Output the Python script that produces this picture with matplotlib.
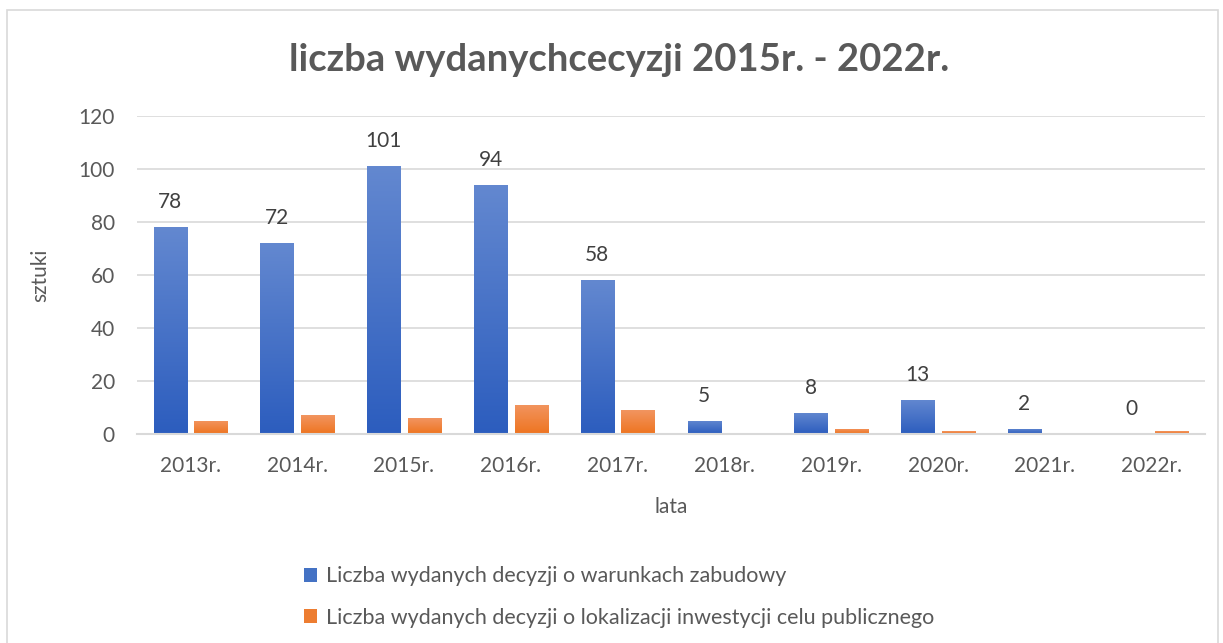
import numpy as np
import matplotlib.pyplot as plt
from matplotlib.colors import LinearSegmentedColormap
from matplotlib.patches import Rectangle

# data
lata = ["2013r.", "2014r.", "2015r.", "2016r.", "2017r.",
        "2018r.", "2019r.", "2020r.", "2021r.", "2022r."]
warunki_zabudowy = [78, 72, 101, 94, 58, 5, 8, 13, 2, 0]
lokalizacja_icp = [5, 7, 6, 11, 9, 0, 2, 1, 0, 1]

labels = ["Liczba wydanych decyzji o warunkach zabudowy",
          "Liczba wydanych decyzji o lokalizacji inwestycji celu publicznego"]

plt.rcParams["font.family"] = ["Lato", "DejaVu Sans"]
text_col = "#595959"

fig = plt.figure(figsize=(12.23, 6.43), dpi=100)
ax = fig.add_axes([137 / 1223, 1 - 434 / 643, (1205 - 137) / 1223, (434 - 116) / 643])

# chart border
fig.patches.append(Rectangle((7 / 1223, -0.05), 1211 / 1223, 1 - 10 / 643 + 0.05,
                             transform=fig.transFigure, fill=False,
                             edgecolor="#D9D9D9", linewidth=1.2))

x = np.arange(len(lata))
w = 0.31
blue_cmap = LinearSegmentedColormap.from_list("b", ["#2C5DBE", "#6388D0"])
orange_cmap = LinearSegmentedColormap.from_list("o", ["#EE7420", "#F29560"])

b1 = ax.bar(x - 0.19, warunki_zabudowy, w, color="#4472C4", label=labels[0], zorder=2)
b2 = ax.bar(x + 0.19, lokalizacja_icp, w, color="#ED7D31", label=labels[1], zorder=2)

# vertical gradient fill, like the office chart
grad = np.linspace(0, 1, 256).reshape(-1, 1)
for bars, cmap in [(b1, blue_cmap), (b2, orange_cmap)]:
    for bar in bars:
        h = bar.get_height()
        if h <= 0:
            continue
        x0 = bar.get_x()
        im = ax.imshow(grad, extent=[x0, x0 + bar.get_width(), 0, h],
                       origin="lower", aspect="auto", cmap=cmap, zorder=2.5)
        im.set_clip_path(bar)

# value labels above the blue bars
for xi, v in zip(x, warunki_zabudowy):
    ax.annotate(str(v), (xi - 0.19, v), xytext=(0, 18), textcoords="offset points",
                ha="center", va="center", fontsize=15, color="#404040")

ax.set_xlim(-0.5, len(lata) - 0.5)
ax.set_ylim(0, 120)
ax.set_yticks(np.arange(0, 121, 20))
ax.set_xticks(x)
ax.set_xticklabels(lata)
ax.tick_params(axis="both", length=0, labelsize=15, colors=text_col)
ax.tick_params(axis="y", pad=16)
ax.tick_params(axis="x", pad=16)
ax.grid(axis="y", color="#D9D9D9", linewidth=1.2, zorder=0)
for s in ["top", "right", "left"]:
    ax.spines[s].set_visible(False)
ax.spines["bottom"].set_color("#D9D9D9")
ax.spines["bottom"].set_linewidth(1.5)
ax.set_axisbelow(True)

ax.set_ylabel("sztuki", fontsize=15, color=text_col, labelpad=20)
ax.set_xlabel("lata", fontsize=15, color=text_col, labelpad=15)

fig.text(0.506, 1 - 60 / 643, "liczba wydanychcecyzji 2015r. - 2022r.",
         ha="center", va="center", fontsize=27.5, fontweight="bold", color=text_col)

leg = fig.legend(handles=[b1, b2], labels=labels, loc="upper left",
                 bbox_to_anchor=(285 / 1223, 1 - 547 / 643), frameon=False,
                 fontsize=15.5, labelcolor=text_col, handlelength=0.6,
                 handleheight=0.6, handletextpad=0.4, labelspacing=1.0)

fig.savefig("out.png", dpi=100)
